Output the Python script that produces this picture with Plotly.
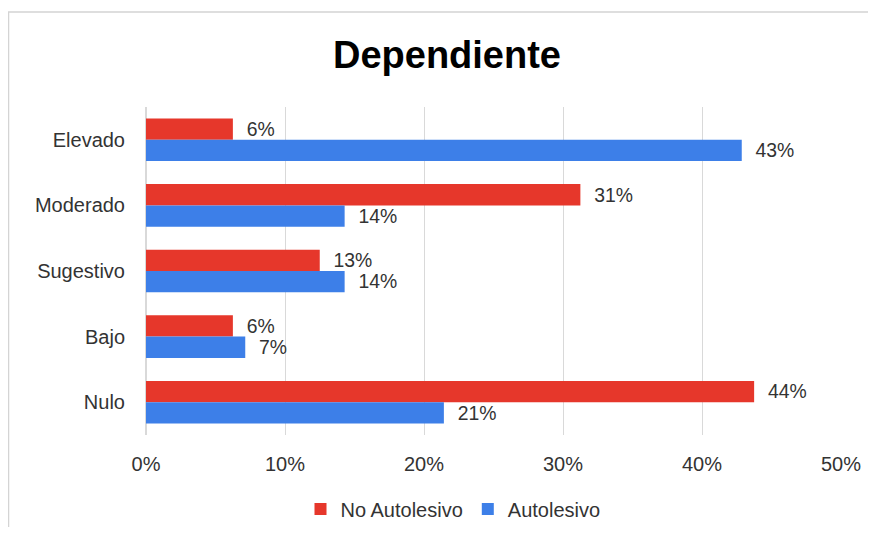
import plotly.graph_objects as go

categories = ["Elevado", "Moderado", "Sugestivo", "Bajo", "Nulo"]
no_autolesivo = [6.25, 31.25, 12.5, 6.25, 43.75]
autolesivo = [42.86, 14.29, 14.29, 7.14, 21.43]
x_ticks = [0, 10, 20, 30, 40, 50]
x_tick_labels = ["0%", "10%", "20%", "30%", "40%", "50%"]

RED = "#E6372B"
BLUE = "#3D7FE8"
FONT = "Liberation Sans, Arial, sans-serif"
TXT = "#333333"

# page body has an 8px default margin; figure sized to fit the window
W, H = 860, 519
L, T = 138, 99
R, B = W - 833, H - 427
PW, PH = W - L - R, H - T - B

fig = go.Figure()
for name, vals, col in [("No Autolesivo", no_autolesivo, RED),
                        ("Autolesivo", autolesivo, BLUE)]:
    fig.add_trace(go.Bar(
        y=categories, x=vals, orientation="h", name=name,
        marker=dict(color=col, line=dict(width=0)),
        texttemplate="\u00a0\u00a0%{x:.0f}%", textposition="outside",
        textfont=dict(size=20, color=TXT, family=FONT), cliponaxis=False,
    ))

fig.update_layout(
    width=W, height=H,
    margin=dict(l=L, r=R, t=T, b=B, autoexpand=False),
    paper_bgcolor="white", plot_bgcolor="white",
    barmode="group", bargap=0.35, bargroupgap=0,
    font=dict(family=FONT, size=20, color=TXT),
    title=dict(text="<b>Dependiente</b>", x=439 / W, xanchor="center",
               y=1 - 47 / H, yanchor="middle",
               font=dict(size=38, color="#000000", family=FONT)),
    showlegend=True,
    legend=dict(orientation="h", x=(445 - L) / PW, xanchor="center",
                y=(427 - 501) / PH, yanchor="middle",
                font=dict(size=20, color=TXT), itemwidth=30,
                traceorder="normal"),
)
fig.update_xaxes(range=[0, 50], tickvals=x_ticks, ticktext=x_tick_labels,
                 showgrid=True, gridcolor="#D9D9D9", gridwidth=1,
                 zeroline=True, zerolinecolor="#D9D9D9", showline=False,
                 tickfont=dict(size=20, color=TXT), ticks="",
                 ticklabelstandoff=15, automargin=False)
fig.update_yaxes(autorange="reversed", showgrid=False, showline=False,
                 ticks="", ticklabelstandoff=20, automargin=False,
                 tickfont=dict(size=20, color=TXT))

fig.add_shape(type="rect", xref="paper", yref="paper",
              x0=(0.5 - L) / PW, x1=1.3, y0=-0.6, y1=(427 - 4) / PH,
              line=dict(color="#D4D4D4", width=1.5), fillcolor="rgba(0,0,0,0)",
              layer="below")

fig.write_html("out.html")
